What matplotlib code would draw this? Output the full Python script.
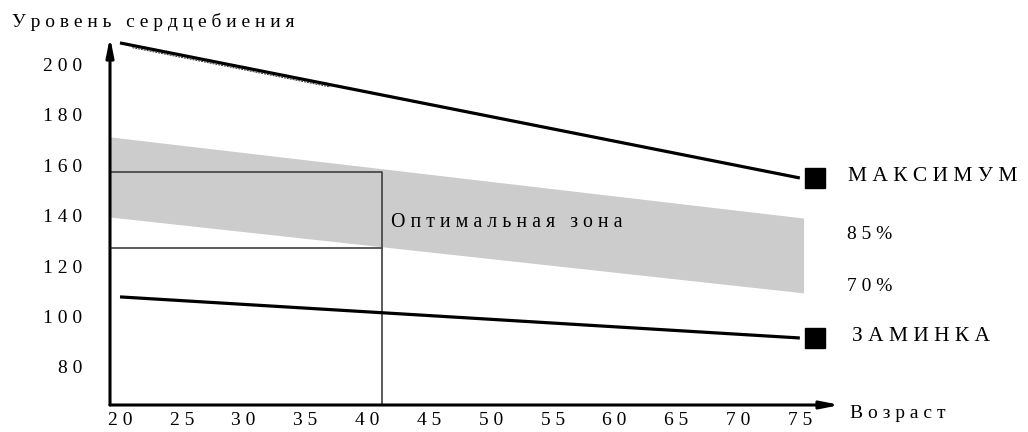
import matplotlib.pyplot as plt

# Данные
ages      = [20, 75]            # возраст, начало и конец линий
max_hr    = [208.6, 155.0]      # максимум
rest_hr   = [107.8, 91.5]       # заминка
band_ages = [19.2, 75.3]        # серая полоса (оптимальная зона)
zone_top  = [171.3, 139.1]      # 85%
zone_bot  = [139.5, 109.4]      # 70%
opt_age   = 41.2                # пример: возраст 40
opt_hi    = 157.4
opt_lo    = 127.2
x_ticks   = [20, 25, 30, 35, 40, 45, 50, 55, 60, 65, 70, 75]
y_ticks   = [80, 100, 120, 140, 160, 180, 200]

FONT = 'Liberation Serif'

def spaced(s):
    # разрядка букв как на оригинале
    return ' '.join(s)

fig = plt.figure(figsize=(10.28, 4.32), dpi=100)
ax = fig.add_axes([110/1028, 1 - 405/432, 730/1028, 368/432])
ax.set_xlim(19.19, 78.25)
ax.set_ylim(64.9, 210.95)

# Оптимальная зона (серая полоса)
ax.fill_between(band_ages, zone_bot, zone_top, color='#cccccc', lw=0, zorder=1)

# Рамка для возраста 40
xmin = ax.get_xlim()[0]
ymin = ax.get_ylim()[0]
ax.plot([xmin, opt_age, opt_age], [opt_hi, opt_hi, ymin], color='#404040', lw=1.2, zorder=2)
ax.plot([xmin, opt_age], [opt_lo, opt_lo], color='#404040', lw=1.2, zorder=2)

# Линии максимума и заминки
slope = (max_hr[1] - max_hr[0]) / (ages[1] - ages[0])
ax.plot([21, 37], [max_hr[0] - 0.9 + slope * 1, max_hr[0] - 0.9 + slope * 17],
        color='#333333', lw=0.7, ls=(0, (2, 1)), zorder=3)
ax.plot(ages, max_hr, color='black', lw=2.3, solid_capstyle='butt', zorder=3)
ax.plot(ages, rest_hr, color='black', lw=2.3, solid_capstyle='butt', zorder=3)

# Квадратные маркеры на концах
ax.plot([76.2], [max_hr[1]], marker='s', ms=15, color='black', clip_on=False, zorder=4)
ax.plot([76.2], [rest_hr[1]], marker='s', ms=15, color='black', clip_on=False, zorder=4)

# Оси со стрелками
for s in ax.spines.values():
    s.set_visible(False)
arrow = dict(arrowstyle='-|>,head_length=1.1,head_width=0.22', color='black',
             lw=2.2, shrinkA=0, shrinkB=0)
ax.annotate('', xy=(0, 1), xytext=(0, 0), xycoords='axes fraction', arrowprops=arrow)
ax.annotate('', xy=(1, 0), xytext=(0, 0), xycoords='axes fraction', arrowprops=arrow)

# Подписи делений
ax.set_xticks(x_ticks)
ax.set_xticklabels([spaced(str(v)) for v in x_ticks], family=FONT, fontsize=14)
ax.set_yticks(y_ticks)
ax.set_yticklabels([spaced(str(v)) for v in y_ticks], family=FONT, fontsize=14)
ax.tick_params(axis='x', length=0, pad=5)
ax.tick_params(axis='y', length=0, pad=20)

# Текст
ax.text(41.9, 137.5, spaced('Оптимальная') + '   ' + spaced('зона'),
        family=FONT, fontsize=14.3, va='center', ha='left', zorder=5)
ax.text(78.9, 155.4, spaced('МАКСИМУМ'), family=FONT, fontsize=15.5, va='center', ha='left')
ax.text(78.8, 132.4, spaced('85%'), family=FONT, fontsize=14, va='center', ha='left')
ax.text(78.8, 112.1, spaced('70%'), family=FONT, fontsize=14, va='center', ha='left')
ax.text(79.2, 91.9, spaced('ЗАМИНКА'), family=FONT, fontsize=15.5, va='center', ha='left')
ax.text(79.06, 61.7, spaced('Возраст'), family=FONT, fontsize=14, va='center', ha='left')
fig.text(12/1028, 1 - 22/432, spaced('Уровень') + '   ' + spaced('сердцебиения'),
         family=FONT, fontsize=14, va='center', ha='left')

fig.savefig('out.png', dpi=100)
